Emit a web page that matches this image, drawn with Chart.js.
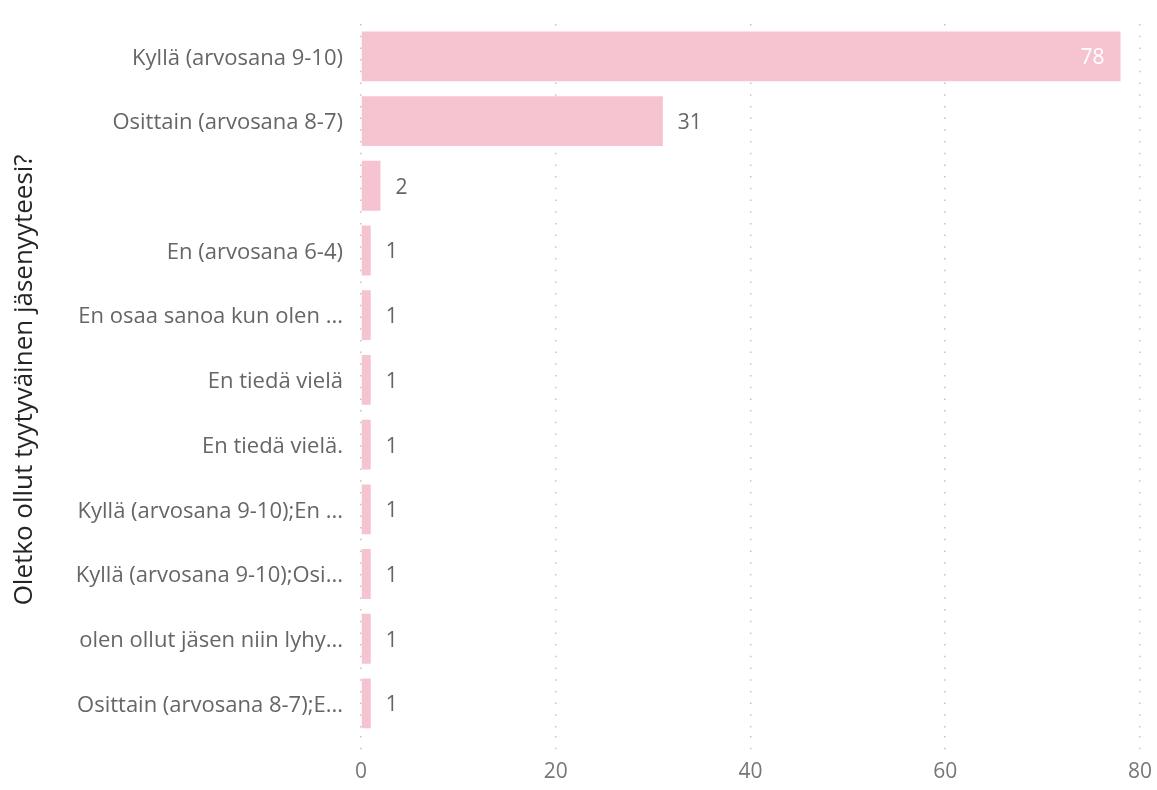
<!DOCTYPE html>
<html>
<head>
<meta charset="utf-8">
<script src="https://cdn.jsdelivr.net/npm/chart.js@4/dist/chart.umd.min.js"></script>
<style>
  html, body { margin: 0; padding: 0; background: #fff; }
  #wrap { width: 1157px; height: 790px; }
</style>
</head>
<body>
<div id="wrap"><canvas id="grafico"></canvas></div>
<script>
// Vastausvaihtoehdot ja vastausten määrät
const vastaukset = [
  'Kyllä (arvosana 9-10)',
  'Osittain (arvosana 8-7)',
  '',
  'En (arvosana 6-4)',
  'En osaa sanoa kun olen ...',
  'En tiedä vielä',
  'En tiedä vielä.',
  'Kyllä (arvosana 9-10);En ...',
  'Kyllä (arvosana 9-10);Osi...',
  'olen ollut jäsen niin lyhy...',
  'Osittain (arvosana 8-7);E...'
];
const maarat = [78, 31, 2, 1, 1, 1, 1, 1, 1, 1, 1];
const xTikit = [0, 20, 40, 60, 80];
const akseliOtsikko = 'Oletko ollut tyytyväinen jäsenyyteesi?';

const fontti = '"Open Sans", "Noto Sans", sans-serif';

// Arvot palkkien päähän (isoin palkin sisään valkoisena)
const arvoTekstit = {
  id: 'arvoTekstit',
  afterDatasetsDraw(chart) {
    const ctx = chart.ctx;
    const meta = chart.getDatasetMeta(0);
    const maksimi = Math.max(...maarat);
    ctx.save();
    ctx.font = '21px ' + fontti;
    ctx.textBaseline = 'middle';
    meta.data.forEach((palkki, i) => {
      const arvo = maarat[i];
      if (arvo === maksimi) {
        ctx.fillStyle = '#ffffff';
        ctx.textAlign = 'right';
        ctx.fillText(arvo, palkki.x - 16, palkki.y + 2);
      } else {
        ctx.fillStyle = '#666666';
        ctx.textAlign = 'left';
        ctx.fillText(arvo, palkki.x + 15, palkki.y + 2);
      }
    });
    ctx.restore();
  }
};

const ctx = document.getElementById('grafico').getContext('2d');
new Chart(ctx, {
  type: 'bar',
  data: {
    labels: vastaukset,
    datasets: [{
      data: maarat,
      backgroundColor: '#F6C4D0',
      borderWidth: 0,
      barPercentage: 0.77,
      categoryPercentage: 1
    }]
  },
  options: {
    indexAxis: 'y',
    responsive: true,
    maintainAspectRatio: false,
    animation: false,
    layout: { padding: { top: 24, right: 15, bottom: 0, left: 0 } },
    plugins: {
      legend: { display: false },
      tooltip: { enabled: false }
    },
    scales: {
      x: {
        min: 0,
        max: 80,
        afterBuildTicks: (scale) => { scale.ticks = xTikit.map(v => ({ value: v })); },
        border: { display: false, dash: [1.5, 10.2] },
        grid: {
          color: '#c4c4c4',
          lineWidth: 1.5,
          tickBorderDash: [1.5, 10.2],
          tickLength: 19,
          tickColor: '#c4c4c4'
        },
        ticks: {
          color: '#777777',
          padding: 5,
          font: { family: fontti, size: 21 }
        }
      },
      y: {
        // kiinteä leveys nimikkeille ja otsikolle, ei ylimääräistä pystysuuntaista tilaa
        afterFit: (scale) => {
          scale.width = 361;
          scale.paddingTop = 0;
          scale.paddingBottom = 0;
        },
        border: { display: false },
        grid: { display: false, drawTicks: false },
        ticks: {
          color: '#666666',
          padding: 18,
          labelOffset: 2,
          autoSkip: false,
          font: { family: fontti, size: 22 }
        },
        title: {
          display: true,
          text: akseliOtsikko,
          color: '#252423',
          padding: { top: 9, bottom: 0 },
          font: { family: fontti, size: 26 }
        }
      }
    }
  },
  plugins: [arvoTekstit]
});
</script>
</body>
</html>
